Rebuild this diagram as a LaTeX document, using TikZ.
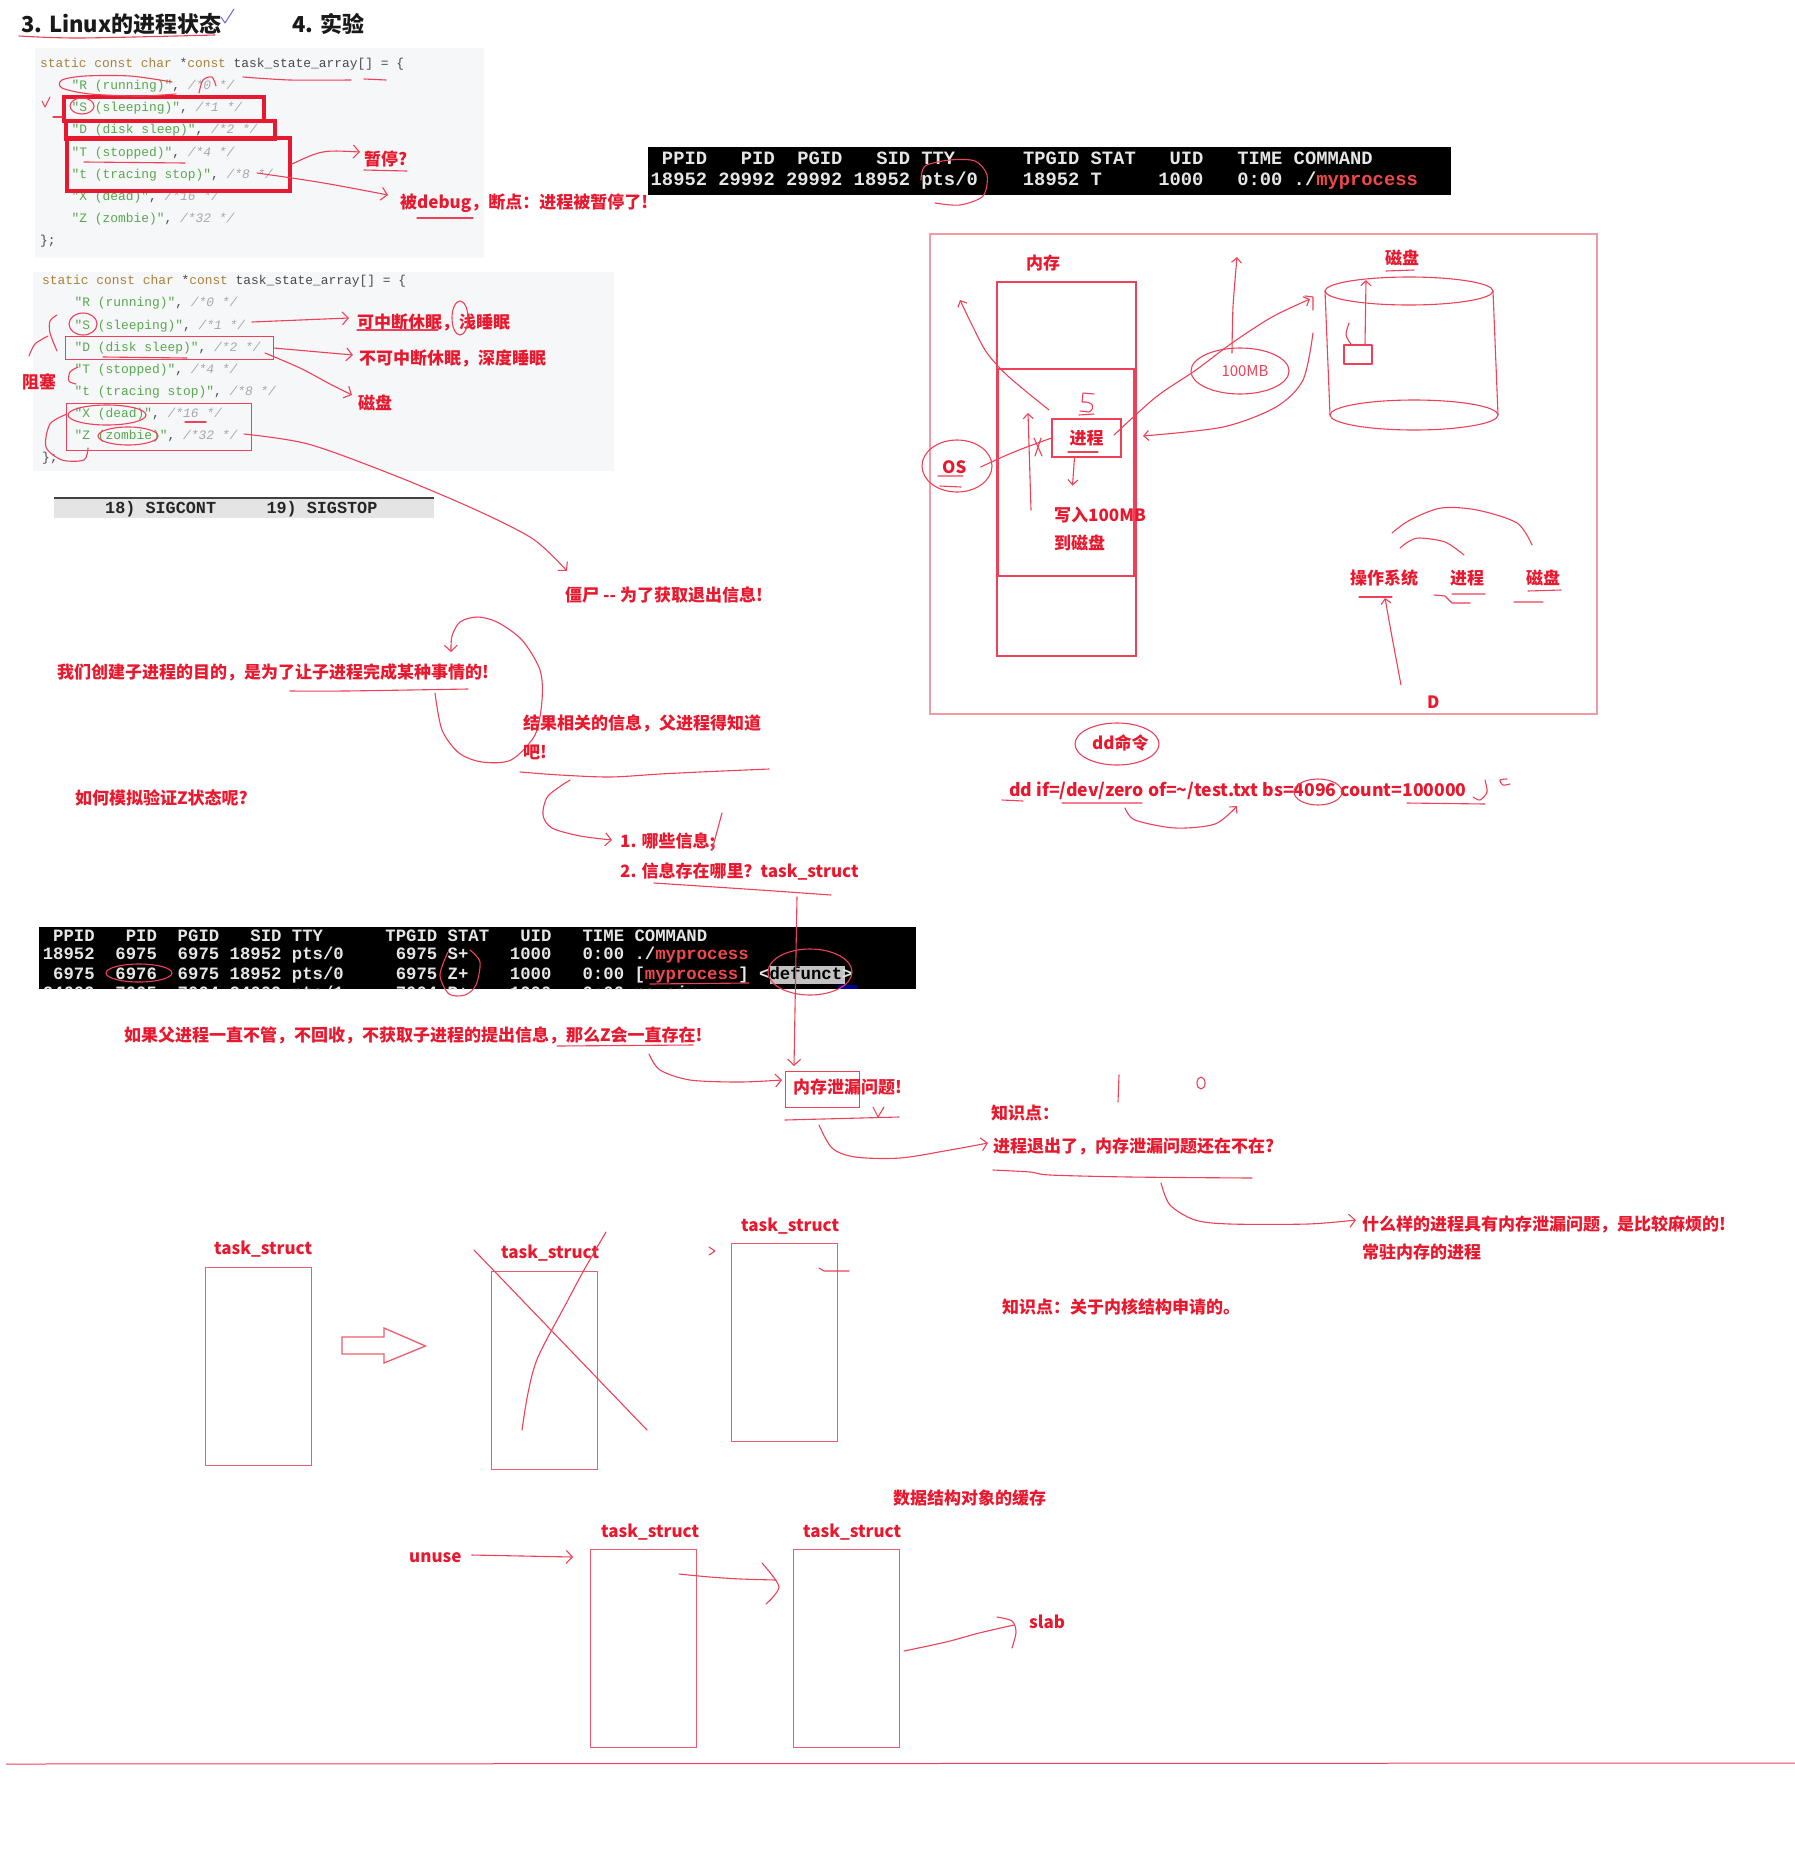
\documentclass[tikz,border=0pt]{standalone}
\usepackage{fontspec}
\newfontfamily\zh{Noto Sans CJK SC}
\setmonofont{Liberation Mono}
\usepackage{tikz}
\usetikzlibrary{arrows.meta, positioning, calc}
\definecolor{notered}{HTML}{E8192E}
\definecolor{penred}{HTML}{EE4058}
\definecolor{boxpink}{HTML}{F29AA4}
\definecolor{taskpink}{HTML}{EE5A6E}
\definecolor{codebg}{HTML}{F6F7F8}
\definecolor{codedark}{HTML}{4A4A4A}
\definecolor{kwbrown}{HTML}{A8823C}
\definecolor{strgreen}{HTML}{58A84E}
\definecolor{cmtgray}{HTML}{A6A8AE}
\definecolor{termred}{HTML}{F04848}
\definecolor{termfg}{HTML}{E6E6E6}
\definecolor{sigbg}{HTML}{E4E4E4}
\definecolor{checkviolet}{HTML}{7A6AE6}
\newcommand{\kw}[1]{\textcolor{kwbrown}{#1}}
\newcommand{\strg}[1]{\textcolor{strgreen}{#1}}
\newcommand{\cmt}[1]{\textcolor{cmtgray}{\itshape #1}}
\newcommand{\myproc}{\textcolor{termred}{myprocess}}

\begin{document}
\begin{tikzpicture}[
    x=1pt, y=-1pt,
    note/.style={anchor=west, inner sep=0pt, text=notered,
                 font=\zh\bfseries\fontsize{17}{20}\selectfont},
    head/.style={anchor=west, inner sep=0pt, text=black!90,
                 font=\zh\bfseries\fontsize{22}{25}\selectfont},
    code/.style={anchor=west, inner sep=0pt, text=codedark,
                 font=\ttfamily\fontsize{12.9}{14}\selectfont},
    term/.style={anchor=west, inner sep=0pt, text=termfg,
                 font=\ttfamily\bfseries\fontsize{18.8}{20}\selectfont},
    termsmall/.style={term, font=\ttfamily\bfseries\fontsize{17.3}{19}\selectfont},
    ink/.style={draw=penred, line width=1.1pt, line cap=round, line join=round},
    arrowtip/.style={-{Straight Barb[length=6pt,width=13pt]}},
    smalltip/.style={-{Straight Barb[length=5pt,width=10pt]}},
    hlbox/.style={draw=notered, line width=3.5pt, inner sep=0pt, anchor=north west},
    thinbox/.style={draw=penred, line width=1.1pt, inner sep=0pt, anchor=north west},
    taskbox/.style={draw=taskpink, line width=1.4pt, inner sep=0pt, anchor=north west,
                    minimum width=106pt, minimum height=198pt},
  ]
  \useasboundingbox (0,0) rectangle (1795,1858);

  % headings
  \node[head] (title) at (21,24) {3. Linux的进程状态};
  \node[head] (expt) at (292,24) {4. 实验};
  \draw[ink] plot[smooth] coordinates {(19,36) (80,38) (215,35)};
  \draw[ink, draw=checkviolet] (221,17) -- (225,23) -- (234,9);

  % code block 1
  \fill[codebg] (35,48) rectangle (484,258);
  \node[code] (ca0) at (40,64) {\kw{static const char} *\kw{const} task\_state\_array[] = \{};
  \foreach \lbl/\num [count=\i] in {R (running)/0, S (sleeping)/1, D (disk sleep)/2,
      T (stopped)/4, t (tracing stop)/8, X (dead)/16, Z (zombie)/32}
    \node[code] (ca\i) at (71.5,64+22.2*\i) {\strg{"\lbl"}, \cmt{/*\num{} */}};
  \node[code] (ca8) at (40,241.6) {\};};

  \node[hlbox, minimum width=200pt, minimum height=24pt] (sbox) at (62,95) {};
  \node[hlbox, minimum width=209pt, minimum height=18pt] (dbox) at (64,119) {};
  \node[hlbox, minimum width=223pt, minimum height=53pt] (tbox) at (65,136) {};

  \node[note] (pause) at (364,159) {暂停?};
  \node[note] (debug) at (400,203) {被debug，断点：进程被暂停了!};
  \draw[ink, arrowtip] (tbox.east) .. controls (322,150) .. ([shift={(-4,-7)}]pause.west);
  \draw[ink, arrowtip] (257,173) .. controls (320,182) .. ([shift={(-12,-8)}]debug.west);
  \draw[ink] (364,170) -- (407,171);
  \draw[ink] (417,218) -- (473,218);

  % pen marks on block 1
  \draw[ink] plot[smooth] coordinates {(176,94) (140,96) (90,94) (62,88) (62,80) (85,76) (130,76) (172,82)};
  \draw[ink] plot[smooth] coordinates {(199,93) (203,80) (212,77) (216,86)};
  \draw[ink] (82,106) ellipse [x radius=12, y radius=8];
  \draw[ink] (42,101) -- (45,107) -- (50,97);
  \draw[ink] (53,117) -- (62,117);
  \draw[ink] plot[smooth] coordinates {(243,77) (290,80) (351,80)};
  \draw[ink] (364,79) -- (386,80);
  \draw[ink] (84,162) -- (185,163);

  % code block 2
  \fill[codebg] (33,272) rectangle (614,471);
  \node[code] (cb0) at (42,281.5) {\kw{static const char} *\kw{const} task\_state\_array[] = \{};
  \foreach \lbl/\num [count=\i] in {R (running)/0, S (sleeping)/1, D (disk sleep)/2,
      T (stopped)/4, t (tracing stop)/8, X (dead)/16, Z (zombie)/32}
    \node[code] (cb\i) at (74.5,281.5+22.1*\i) {\strg{"\lbl"}, \cmt{/*\num{} */}};
  \node[code] (cb8) at (42,458.3) {\};};

  \node[thinbox, minimum width=208pt, minimum height=23pt] (dbox2) at (65,336) {};
  \node[thinbox, minimum width=185pt, minimum height=47pt] (xzbox) at (66,403) {};

  \node[note] (light) at (357,322) {可中断休眠，浅睡眠};
  \node[note] (deep) at (359,358) {不可中断休眠，深度睡眠};
  \node[note] (disk1) at (358,403) {磁盘};
  \node[note] (block) at (22,382) {阻塞};
  \draw[ink, arrowtip] (252,322) -- ([shift={(-8,-4)}]light.west);
  \draw[ink, arrowtip] (dbox2.east) -- ([shift={(-6,-3)}]deep.west);
  \draw[ink, arrowtip] plot[smooth] coordinates {(265,353) (300,368) (330,384) (352,395)};
  \draw[ink, arrowtip] plot[smooth] coordinates {(244,434) (308,444) (391,474) (474,509) (533,539) (567,571)};
  \draw[ink] (357,330) -- (438,330);
  \draw[ink] (460,318) ellipse [x radius=8, y radius=17];

  % pen marks on block 2
  \draw[ink] (83,324) ellipse [x radius=14, y radius=11];
  \draw[ink] (103,357) -- (187,358);
  \draw[ink] plot[smooth] coordinates {(57,315) (50,321) (50,333) (57,351)};
  \draw[ink] plot[smooth] coordinates {(48,336) (35,344) (29,356)};
  \draw[ink] plot[smooth] coordinates {(78,367) (70,372) (69,381) (76,384)};
  \draw[ink] (107,415) ellipse [x radius=39, y radius=10];
  \draw[ink] (128,436) ellipse [x radius=30, y radius=9];
  \draw[ink] plot[smooth] coordinates {(67,414) (50,424) (46,447) (62,460) (84,460) (88,448)};
  \draw[ink] (185,422) -- (206,422);

  % signal bar
  \fill[sigbg] (54,498) rectangle (434,518);
  \draw[line width=2pt, black!75] (54,498) -- (434,498);
  \node[code, text=black!85, font=\ttfamily\bfseries\fontsize{16.8}{18}\selectfont]
    (sig) at (105,509) {18)~SIGCONT~~~~~19)~SIGSTOP};

  % terminal 1
  \fill[black] (648,147) rectangle (1451,195);
  \node[term] (th1) at (650.5,158) {~PPID~~~PID~~PGID~~~SID~TTY~~~~~~TPGID~STAT~~~UID~~~TIME~COMMAND};
  \node[term] (tr1) at (650.5,181) {18952~29992~29992~18952~pts/0~~~~18952~T~~~~~1000~~~0:00~./\myproc};
  \draw[ink] plot[smooth] coordinates {(935,203) (960,205) (983,196) (987,175) (975,161) (950,160) (925,166) (921,180)};

  % memory / disk sketch
  \draw[draw=boxpink, line width=1.3pt] (930,234) rectangle (1597,714);
  \node[note] (mem) at (1026,263) {内存};
  \draw[draw=penred, line width=1.2pt] (997,282) rectangle (1136,656);
  \draw[draw=penred, line width=1.2pt] (998,369) rectangle (1134,576);
  \node[draw=penred, line width=1.1pt, minimum width=69pt, minimum height=38pt,
        inner sep=0pt, text=notered, font=\zh\bfseries\fontsize{17}{20}\selectfont]
    (proc) at (1086.5,438) {进程};
  \draw[ink] (1094,394) -- (1083,393) -- (1082,402) .. controls (1093,401) and (1096,408) .. (1089,412) -- (1080,411);
  \draw[ink] (1079,415) -- (1094,414);
  \draw[ink] (1068,452) -- (1098,452);
  \node[note] (os) at (942,467) {OS};
  \draw[ink] (957,466) ellipse [x radius=35, y radius=26];
  \draw[ink] (938,476) -- (963,476) (940,486) -- (961,487);
  \draw[ink] ([xshift=14pt]os.east) .. controls (1013,452) .. (proc.west);
  \draw[ink] (1034,438) -- (1042,456) (1041,438) -- (1035,456);
  \draw[ink, smalltip] (1031,510) -- (1028,413);
  \draw[ink, smalltip] plot[smooth] coordinates {(1049,410) (1009,377) (987,353) (973,327) (960,300)};
  \draw[ink, smalltip] ([xshift=-12pt]proc.south) -- ++(-2,28);
  \node[note] (write) at (1054,515) {写入100MB};
  \node[note] (todisk) at (1054,543) {到磁盘};
  \draw[ink, smalltip] plot[smooth] coordinates {(1114,435) (1156,397) (1196,370) (1232,343) (1272,317) (1310,299)};
  \draw[ink] (1305,296) -- (1313,297) -- (1313,310);
  \draw[ink, smalltip] plot[smooth] coordinates {(1232,353) (1233,307) (1237,257)};
  \draw[ink] (1240,371) ellipse [x radius=49, y radius=23];
  \node[inner sep=0pt, text=penred, font=\zh\fontsize{15}{17}\selectfont] (mb) at (1245,371) {100MB};
  \draw[ink, smalltip] plot[smooth] coordinates {(1313,333) (1303,380) (1276,407) (1223,427) (1143,436)};
  % disk cylinder
  \draw[draw=penred, line width=1.1pt] (1409,291) ellipse [x radius=84, y radius=14];
  \draw[draw=penred, line width=1.1pt] (1414,415) ellipse [x radius=84, y radius=15];
  \draw[draw=penred, line width=1.1pt] (1325,291) -- (1330,415) (1493,291) -- (1498,415);
  \node[note] (disk2) at (1385,258) {磁盘};
  \draw[ink] (1386,271) -- (1414,270);
  \draw[ink, smalltip] (1365,345) -- (1366,280);
  \draw[ink] (1344,345) rectangle (1372,364);
  \draw[ink] plot[smooth] coordinates {(1349,323) (1346,335) (1351,344)};
  % os / process / disk
  \node[note] (osys) at (1350,578) {操作系统};
  \node[note] (proc2) at (1450,578) {进程};
  \node[note] (disk3) at (1526,578) {磁盘};
  \draw[ink] (1359,597) -- (1392,597);
  \draw[ink] (1434,595) -- (1445,596) -- (1452,603) -- (1470,603) (1452,594) -- (1485,594);
  \draw[ink] (1514,602) -- (1543,602) (1528,591) -- (1561,590);
  \draw[ink] plot[smooth] coordinates {(1392,533) (1410,520) (1441,508) (1477,510) (1517,523) (1532,545)};
  \draw[ink] plot[smooth] coordinates {(1400,548) (1408,542) (1419,538) (1445,542) (1464,555)};
  \node[note] (dstate) at (1427,702) {D};
  \draw[ink, smalltip] plot[smooth] coordinates {(1401,685) (1392,637) (1385,598)};

  % dd command
  \node[note] (ddname) at (1092,743) {dd命令};
  \draw[ink] (1117,744) ellipse [x radius=42, y radius=21];
  \node[note, font=\zh\bfseries\fontsize{17.6}{20}\selectfont] (ddcmd) at (1009,791)
    {dd if=/dev/zero of=\textasciitilde/test.txt bs=4096 count=100000};
  \draw[ink] (1002,800) -- (1023,801) (1062,803) -- (1142,803) (1407,803) -- (1485,804);
  \draw[ink] (1318,792) ellipse [x radius=24, y radius=13];
  \draw[ink] plot[smooth] coordinates {(1473,797) (1480,800) (1487,792) (1485,780)};
  \draw[ink] plot[smooth] coordinates {(1507,779) (1500,780) (1503,785) (1510,784)};
  \draw[ink, smalltip] plot[smooth] coordinates {(1125,808) (1135,820) (1175,828) (1215,824) (1237,806)};

  % zombie notes
  \node[note] (zombie) at (565,595) {僵尸 -{}- 为了获取退出信息!};
  \node[note] (purpose) at (57,672) {我们创建子进程的目的，是为了让子进程完成某种事情的!};
  \draw[ink] plot[smooth] coordinates {(290,691) (345,691) (468,689)};
  \draw[ink, arrowtip] plot[smooth] coordinates {(435,693) (442,730) (459,753) (482,762) (511,760)
      (535,735) (542,700) (540,670) (522,640) (497,622) (477,617) (460,622) (452,636) (451,652)};
  \node[note] (result) at (523,723) {结果相关的信息，父进程得知道};
  \node[note] (result2) at (523,752) {吧!};
  \draw[ink] plot[smooth] coordinates {(520,772) (560,775) (610,777) (660,774) (700,772) (769,769)};
  \draw[ink, arrowtip] plot[smooth] coordinates {(570,780) (548,796) (543,815) (552,828) (580,836) (612,840)};
  \node[note] (q1) at (620,842) {1. 哪些信息;};
  \node[note] (q2) at (620,872) {2. 信息存在哪里？task\_struct};
  \draw[ink] (712,850) -- (722,813);
  \draw[ink] plot[smooth] coordinates {(654,883) (760,890) (831,895)};
  \node[note] (howz) at (75,798) {如何模拟验证Z状态呢?};

  % terminal 2
  \fill[black] (39,927) rectangle (916,989);
  \fill[sigbg!85!black] (770,966) rectangle (845,984);
  \fill[blue!60!black] (838,985) rectangle (857,989);
  \node[termsmall] (uh) at (42.6,936) {~PPID~~~PID~~PGID~~~SID~TTY~~~~~~TPGID~STAT~~~UID~~~TIME~COMMAND};
  \node[termsmall] (u1) at (42.6,955.5) {18952~~6975~~6975~18952~pts/0~~~~~6975~S+~~~~1000~~~0:00~./\myproc};
  \node[termsmall] (u2) at (42.6,974.5) {~6975~~6976~~6975~18952~pts/0~~~~~6975~Z+~~~~1000~~~0:00~[\myproc]~<\textcolor{black}{defunct}>};
  \begin{scope}
    \clip (39,927) rectangle (916,989);
    \node[termsmall] (u3) at (42.6,994) {24609~~7005~~7004~24609~pts/1~~~~~7004~R+~~~~1000~~~0:00~ps~ajx};
  \end{scope}
  \draw[ink] (139,973) ellipse [x radius=33, y radius=9];
  \draw[ink] plot[smooth] coordinates {(448,952) (440,975) (449,994) (465,995) (476,985) (480,962) (470,950)};
  \draw[ink] (650,984) -- (749,983);
  \draw[ink] (810,972) ellipse [x radius=42, y radius=23];
  \draw[ink, arrowtip] (797,897) -- (794,1066);
  \node[note] (keep) at (124,1035) {如果父进程一直不管，不回收，不获取子进程的提出信息，那么Z会一直存在!};
  \draw[ink] (557,1046) -- (693,1045);
  \draw[ink, arrowtip] plot[smooth] coordinates {(649,1054) (660,1070) (690,1080) (740,1082) (782,1080)};

  % memory leak notes
  \node[thinbox, minimum width=74pt, minimum height=36pt] (leakbox) at (785,1071) {};
  \node[note] (leak) at (793,1087) {内存泄漏问题!};
  \draw[ink] (785,1120) -- (899,1117);
  \draw[ink] (873,1107) -- (878,1117) -- (884,1107);
  \node[note] (kp1) at (991,1113) {知识点：};
  \draw[ink] (1119,1075) -- (1118,1102);
  \draw[ink] (1201,1083) ellipse [x radius=4, y radius=6];
  \draw[ink, arrowtip] plot[smooth] coordinates {(819,1125) (832,1148) (855,1157) (900,1158) (950,1150) (988,1143)};
  \node[note] (exitq) at (993,1147) {进程退出了，内存泄漏问题还在不在?};
  \draw[ink] plot[smooth] coordinates {(993,1170) (1030,1172) (1050,1175) (1130,1177) (1252,1178)};
  \draw[ink, arrowtip] plot[smooth] coordinates {(1161,1183) (1170,1205) (1195,1220) (1230,1224) (1308,1224) (1356,1220)};
  \node[note] (which) at (1362,1224) {什么样的进程具有内存泄漏问题，是比较麻烦的!};
  \node[note] (resident) at (1362,1252) {常驻内存的进程};
  \node[note] (kp2) at (1002,1307) {知识点：关于内核结构申请的。};

  % task_struct release
  \node[note] (ts1) at (214,1249) {task\_struct};
  \node[taskbox] (box1) at (205,1267) {};
  \node[note] (ts2) at (501,1253) {task\_struct};
  \node[taskbox] (box2) at (491,1271) {};
  \node[note] (ts3) at (741,1226) {task\_struct};
  \node[taskbox] (box3) at (731,1243) {};
  \draw[draw=taskpink, line width=1.3pt, line join=miter]
    (342,1337) -- (384,1337) -- (384,1328) -- (425.5,1346) -- (384,1363) -- (384,1354) -- (342,1354) -- cycle;
  \draw[ink] (474,1250) -- (647,1430);
  \draw[ink] plot[smooth] coordinates {(606,1232) (584,1270) (568,1300) (538,1357) (528,1393) (522,1430)};
  \draw[ink] (709,1247) -- (715,1251) -- (709,1255);
  \draw[ink] (819,1268) -- (824,1271) -- (849,1271);

  % object cache
  \node[note] (cache) at (893,1498) {数据结构对象的缓存};
  \node[note] (tsa) at (601,1532) {task\_struct};
  \node[taskbox] (boxa) at (590,1549) {};
  \node[note] (tsb) at (803,1532) {task\_struct};
  \node[taskbox] (boxb) at (793,1549) {};
  \node[note] (unuse) at (409,1558) {unuse};
  \node[note] (slab) at (1029,1622) {slab};
  \draw[ink, arrowtip] ([shift={(10,-3)}]unuse.east) -- ([shift={(-17,8)}]boxa.north west);
  \draw[ink] plot[smooth] coordinates {(679,1574) (710,1577) (741,1579) (776,1580)};
  \draw[ink] plot[smooth] coordinates {(762,1563) (772,1575) (779,1587) (773,1597) (766,1604)};
  \draw[ink] plot[smooth] coordinates {(904,1651) (946,1642) (979,1633) (1014,1625)};
  \draw[ink] plot[smooth] coordinates {(997,1617) (1012,1621) (1016,1632) (1012,1648)};

  \draw[draw=penred, line width=1pt] (6,1764) -- (1795,1763);
\end{tikzpicture}
\end{document}
